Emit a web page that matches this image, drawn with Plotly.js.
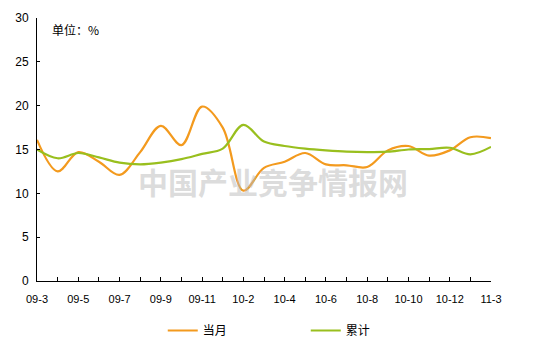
<!DOCTYPE html>
<html>
<head>
<meta charset="utf-8">
<script src="https://cdn.plot.ly/plotly-3.0.1.min.js"></script>
<style>html,body{margin:0;padding:0;background:#fff;}#chart{width:534px;height:352px;}</style>
</head>
<body>
<div id="chart"></div>
<script>
var months = ["09-3","09-4","09-5","09-6","09-7","09-8","09-9","09-10","09-11","09-12",
              "10-2","10-3","10-4","10-5","10-6","10-7","10-8","10-9","10-10","10-11","10-12",
              "11-2","11-3"];
var tickLabels = ["09-3","09-5","09-7","09-9","09-11","10-2","10-4","10-6","10-8","10-10","10-12","11-3"];
var monthly = [16.1,12.5,14.7,13.6,12.1,14.7,17.7,15.5,19.9,17.5,10.3,12.9,13.6,14.6,13.3,13.2,13.0,14.9,15.4,14.3,14.9,16.4,16.3];
var cumulative = [15.0,14.0,14.6,14.1,13.5,13.3,13.5,13.9,14.5,15.1,17.8,15.9,15.4,15.1,14.9,14.75,14.7,14.75,15.0,15.05,15.2,14.45,15.3];
var yTicks = [0,5,10,15,20,25,30];

var traces = [
  {x: months, y: monthly, name: "当月", type: "scatter", mode: "lines",
   line: {color: "#F39A1E", width: 2.2, shape: "spline", smoothing: 1}},
  {x: months, y: cumulative, name: "累计", type: "scatter", mode: "lines",
   line: {color: "#99BF1E", width: 2.2, shape: "spline", smoothing: 1}}
];

var font = {family: "Arial, 'Liberation Sans', sans-serif", size: 12, color: "#000"};
var layout = {
  width: 534, height: 352,
  margin: {l: 37, r: 43, t: 18, b: 71, autoexpand: false},
  paper_bgcolor: "#fff", plot_bgcolor: "#fff",
  font: font,
  showlegend: true,
  legend: {orientation: "h", x: 0.277, xanchor: "left", y: -0.133, yanchor: "top",
           font: {family: "'Noto Sans CJK SC', sans-serif", size: 12, color: "#000"},
           itemwidth: 30, tracegroupgap: 0, entrywidth: 98},
  xaxis: {type: "category", range: [0, months.length - 1], showgrid: false, zeroline: false,
          showline: true, linecolor: "#000", linewidth: 1,
          ticks: "inside", ticklen: 4, tickcolor: "#000", tickwidth: 1,
          tickmode: "array", tickvals: months, ticktext: months.map(function(m){ return tickLabels.indexOf(m) >= 0 ? m : ""; }),
          ticklabelstandoff: 8,
          tickfont: {family: "Arial, 'Liberation Sans', sans-serif", size: 11, color: "#000"}, tickangle: 0, automargin: false},
  yaxis: {range: [0, 30], tickvals: yTicks, showgrid: false, zeroline: false,
          showline: true, linecolor: "#000", linewidth: 1,
          ticks: "inside", ticklen: 3, tickcolor: "#000", ticklabelstandoff: 5,
          tickfont: {family: "Arial, 'Liberation Sans', sans-serif", size: 12, color: "#000"}, automargin: false},
  annotations: [
    {text: "单位：%", xref: "paper", yref: "paper", x: 0.028, y: 0.995, xanchor: "left", yanchor: "top",
     showarrow: false, font: {family: "'Noto Sans CJK SC', sans-serif", size: 12, color: "#000"}},
    {text: "<b>中国产业竞争情报网</b>", xref: "paper", yref: "paper", x: 0.52, y: 0.38, xanchor: "center", yanchor: "middle",
     showarrow: false, font: {family: "'Noto Sans CJK SC', sans-serif", size: 30, color: "rgba(185,185,185,0.5)"}}
  ]
};
Plotly.newPlot("chart", traces, layout, {displayModeBar: false, staticPlot: true});
</script>
</body>
</html>
